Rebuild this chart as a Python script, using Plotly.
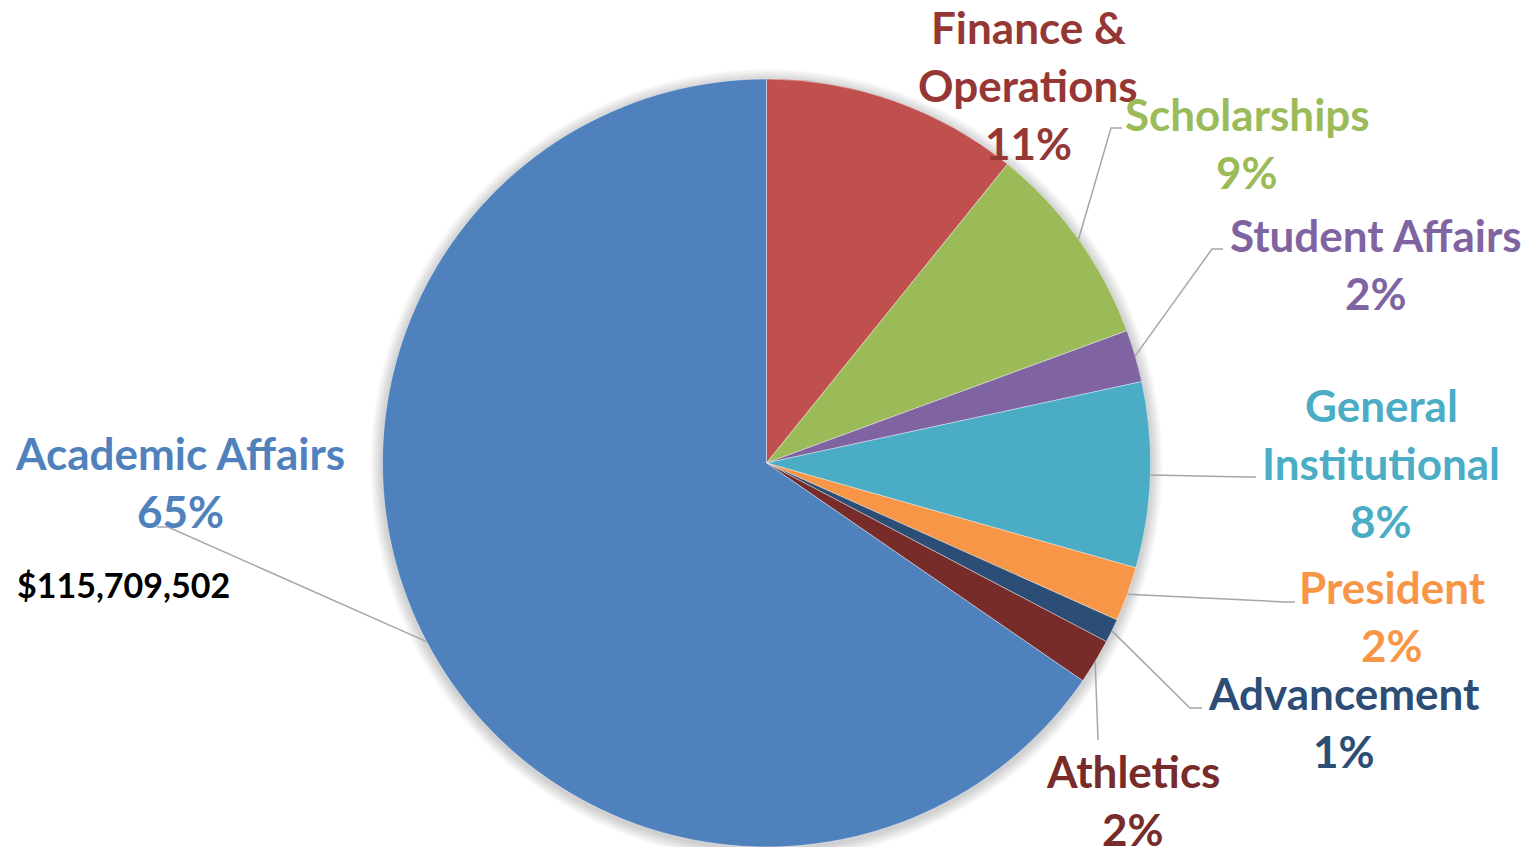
import math
import plotly.graph_objects as go

# ---- data (share of budget, %) ----
departments = ["Finance & Operations", "Scholarships", "Student Affairs",
               "General Institutional", "President", "Advancement",
               "Athletics", "Academic Affairs"]
shares = [10.8, 8.6, 2.2, 7.8, 2.3, 1.0, 1.9, 65.4]
label_lines = [["Finance &", "Operations"], ["Scholarships"], ["Student Affairs"],
               ["General", "Institutional"], ["President"], ["Advancement"],
               ["Athletics"], ["Academic Affairs"]]
academic_amount = "$115,709,502"

slice_colors = ["#C0504D", "#9BBB59", "#8064A2", "#4BACC6",
                "#F79646", "#2C4D75", "#772C2A", "#4F81BD"]
text_colors = ["#953735", "#9BBB59", "#8064A2", "#4BACC6",
               "#F79646", "#2C4D75", "#772C2A", "#4F81BD"]

# ---- layout (pixels, page coordinates) ----
W, H = 1532, 847
PAGE_OFF = 8  # body margin of the page
CX, CY, R = 766.5, 463.0, 384.0
LINE_GAP = 58
FONT = "Lato"
# label block centre, leader elbow, leader end (None = no leader)
label_pos = [(1028, 85), (1247, 143), (1376, 264), (1381, 463),
             (1392, 616), (1344, 722), (1133, 800), (180, 482)]
leader_pts = [None,
              [(1111, 128), (1122, 128)],
              [(1212, 249), (1223, 249)],
              [(1247, 477), (1256, 477)],
              [(1285, 602), (1295, 602)],
              [(1190, 708), (1202, 708)],
              [(1098, 740)],
              [(168, 527), (157, 527)]]


def px(x, y):
    return (x - PAGE_OFF) / W, 1 - (y - PAGE_OFF) / H


fig = go.Figure()

x0, y1 = px(CX - R, CY - R)
x1, y0 = px(CX + R, CY + R)
fig.add_trace(go.Pie(
    labels=departments,
    values=shares,
    sort=False,
    direction="clockwise",
    rotation=0,
    marker=dict(colors=slice_colors, line=dict(color="rgba(255,255,255,0.5)", width=0.8)),
    textinfo="none",
    hoverinfo="label+percent",
    showlegend=False,
    domain=dict(x=[x0, x1], y=[y0, y1]),
))

shapes = []
# soft shadow round the pie
for k in range(1, 9):
    rr = R + k * 1.5
    a, b = px(CX - rr, CY + 2 - rr)
    c, d = px(CX + rr, CY + 2 + rr)
    shapes.append(dict(type="circle", xref="paper", yref="paper",
                       x0=a, y0=d, x1=c, y1=b, layer="below",
                       fillcolor="rgba(0,0,0,0.025)", line=dict(width=0)))

total = sum(shares)
cum = 0.0
annotations = []
for i, v in enumerate(shares):
    mid = math.radians(360 * (cum + v / 2) / total)
    cum += v
    sx, sy = CX + R * math.sin(mid), CY - R * math.cos(mid)
    if leader_pts[i]:
        pts = [(sx, sy)] + leader_pts[i]
        path = "M " + " L ".join(f"{px(x, y)[0]},{px(x, y)[1]}" for x, y in pts)
        shapes.append(dict(type="path", xref="paper", yref="paper", path=path,
                           line=dict(color="#A6A6A6", width=1.5)))
    lines = label_lines[i] + [f"{round(v)}%"]
    lx, ly = label_pos[i]
    n = len(lines)
    for j, t in enumerate(lines):
        yy = ly + (j - (n - 1) / 2) * LINE_GAP
        ax, ay = px(lx, yy)
        annotations.append(dict(x=ax, y=ay, xref="paper", yref="paper",
                                text=t, showarrow=False, xanchor="center", yanchor="middle",
                                font=dict(family=FONT, size=44, color=text_colors[i],
                                          weight="bold")))

mx, my = px(15, 584)
annotations.append(dict(x=mx, y=my, xref="paper", yref="paper", text=academic_amount,
                        showarrow=False, xanchor="left", yanchor="middle",
                        font=dict(family=FONT, size=34, color="black", weight="bold")))

fig.update_layout(
    width=W, height=H,
    margin=dict(l=0, r=0, t=0, b=0),
    paper_bgcolor="white",
    plot_bgcolor="white",
    shapes=shapes,
    annotations=annotations,
)

fig.write_html("out.html")
